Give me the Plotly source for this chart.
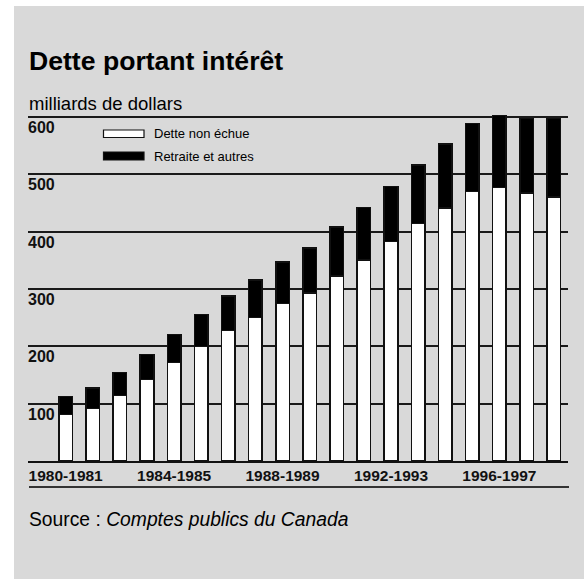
import plotly.graph_objects as go

# ---- data ----
years = ["1980-1981", "1981-1982", "1982-1983", "1983-1984", "1984-1985",
         "1985-1986", "1986-1987", "1987-1988", "1988-1989", "1989-1990",
         "1990-1991", "1991-1992", "1992-1993", "1993-1994", "1994-1995",
         "1995-1996", "1996-1997", "1997-1998", "1998-1999"]
dette_non_echue = [81.5, 91.2, 114.5, 141.9, 171.6, 200.0, 227.9, 250.1, 275.0, 293.0,
                   322.7, 350.6, 382.5, 414.0, 440.8, 470.0, 477.0, 467.5, 460.6]
retraite_autres = [31.2, 36.3, 40.1, 43.6, 48.8, 55.0, 59.6, 65.1, 71.6, 78.6,
                   85.0, 91.4, 96.2, 102.4, 111.7, 118.6, 125.6, 129.9, 136.8]
x_ticks = ["1980-1981", "1984-1985", "1988-1989", "1992-1993", "1996-1997"]
y_ticks = [100, 200, 300, 400, 500, 600]
series_names = ["Dette non échue", "Retraite et autres"]

# ---- layout geometry (pixels) ----
W, H = 584, 579
L, R, T, B = 28, 16, 114, 118
PW = W - L - R
PH = H - T - B
FONT = "Liberation Sans, Arial, Helvetica, sans-serif"
GRAY = "#d9d9d9"
INK = "#111111"


def px_x(px):
    return (px - L) / PW


def px_y(py):
    return (H - B - py) / PH


fig = go.Figure()
fig.add_trace(go.Bar(x=years, y=dette_non_echue, name=series_names[0],
                     marker=dict(color="white", line=dict(color=INK, width=1.5)),
                     showlegend=False))
fig.add_trace(go.Bar(x=years, y=retraite_autres, name=series_names[1],
                     marker=dict(color="black", line=dict(color=INK, width=1.5)),
                     showlegend=False))

shapes = []
# white border strips (left / top)
shapes.append(dict(type="rect", xref="paper", yref="paper", layer="below",
                   x0=px_x(-2), x1=px_x(14), y0=px_y(H + 2), y1=px_y(-2),
                   fillcolor="white", line=dict(width=0)))
shapes.append(dict(type="rect", xref="paper", yref="paper", layer="below",
                   x0=px_x(-2), x1=px_x(W + 2), y0=px_y(6), y1=px_y(-2),
                   fillcolor="white", line=dict(width=0)))
# bottom rule
shapes.append(dict(type="line", xref="paper", yref="paper",
                   x0=px_x(29), x1=px_x(569), y0=px_y(487), y1=px_y(487),
                   line=dict(color="#333333", width=2)))
# legend swatches
shapes.append(dict(type="rect", xref="paper", yref="paper",
                   x0=px_x(103.5), x1=px_x(144), y0=px_y(137.5), y1=px_y(130),
                   fillcolor="white", line=dict(color=INK, width=1.2)))
shapes.append(dict(type="rect", xref="paper", yref="paper",
                   x0=px_x(103.5), x1=px_x(144), y0=px_y(160), y1=px_y(152),
                   fillcolor="black", line=dict(color=INK, width=1.2)))

annotations = []
annotations.append(dict(text="Dette portant intérêt", xref="paper", yref="paper",
                        x=px_x(27), y=px_y(60.5), xanchor="left", yanchor="middle",
                        showarrow=False,
                        font=dict(family=FONT, size=26.6, color="black", weight="bold")))
annotations.append(dict(text="milliards de dollars", xref="paper", yref="paper",
                        x=px_x(27), y=px_y(103), xanchor="left", yanchor="middle",
                        showarrow=False,
                        font=dict(family=FONT, size=18.5, color="black")))
annotations.append(dict(text="Source : <i>Comptes publics du Canada</i>", xref="paper", yref="paper",
                        x=px_x(27), y=px_y(519), xanchor="left", yanchor="middle",
                        showarrow=False,
                        font=dict(family=FONT, size=19.3, color="black")))
for name, cy in zip(series_names, [133.5, 156.5]):
    annotations.append(dict(text=name, xref="paper", yref="paper",
                            x=px_x(152), y=px_y(cy), xanchor="left", yanchor="middle",
                            showarrow=False,
                            font=dict(family=FONT, size=13, color="black")))
for v in y_ticks:
    annotations.append(dict(text=str(v), xref="paper", yref="y",
                            x=0, y=v, xanchor="left", yanchor="top", yshift=0,
                            showarrow=False, xshift=-2,
                            font=dict(family=FONT, size=16, color=INK, weight="bold")))

fig.update_layout(
    width=W, height=H, autosize=False,
    margin=dict(l=L, r=R, t=T, b=B, pad=0),
    paper_bgcolor=GRAY, plot_bgcolor=GRAY,
    barmode="stack", bargap=0.5,
    showlegend=False,
    shapes=shapes, annotations=annotations,
    xaxis=dict(type="category", range=[-1.39, 18.53], tickmode="array",
               tickvals=x_ticks, ticktext=x_ticks, ticks="", showgrid=False,
               showline=True, linecolor=INK, linewidth=1.5, zeroline=False,
               tickfont=dict(family=FONT, size=15.5, color=INK, weight="bold")),
    yaxis=dict(range=[0, 605], tickvals=y_ticks, showticklabels=False, ticks="",
               showgrid=True, gridcolor="#1a1a1a", gridwidth=1.5, zeroline=False,
               showline=False),
)

fig.write_html("out.html", config={"displayModeBar": False},
               post_script="document.body.style.margin='0';document.body.style.overflow='hidden';")
